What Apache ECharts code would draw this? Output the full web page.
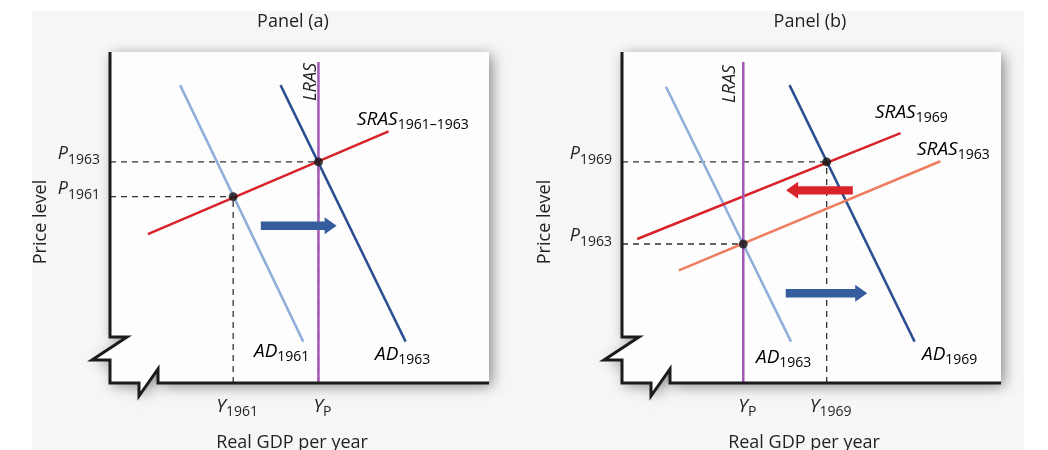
<!DOCTYPE html>
<html><head><meta charset="utf-8">
<script src="https://cdn.jsdelivr.net/npm/echarts@6/dist/echarts.min.js"></script>
<style>html,body{margin:0;padding:0;background:#fff}#c{width:1048px;height:450px}</style>
</head><body><div id="c"></div>
<script>
// ---------- Panel (a) ----------
const adA1961 = [[18.5, 90], [51, 12.5]];
const adA1963 = [[45, 90], [78, 12.5]];
const srasA = [[10, 45], [73.5, 76]];
const lrasA = [[55, 0], [55, 97]];
const eqA = [[55, 66.8], [32.5, 56.3]];
const demandArrowA = [[39.8, 59.8, 47.5]];
const yTicksA = [56.3, 66.8];
const yTickSubsA = ['1961', '1963'];
const xTicksA = [32.5, 55];
const xTickSubsA = ['1961', 'P'];
// ---------- Panel (b) ----------
const adB1963 = [[11.6, 89.5], [44.6, 12.5]];
const adB1969 = [[44.2, 90], [77.2, 12.5]];
const srasB1963 = [[15, 34], [84, 67]];
const srasB1969 = [[4, 43.5], [73.5, 75.5]];
const lrasB = [[32, 0], [32, 97]];
const eqB = [[54, 66.8], [32, 42]];
const supplyArrowB = [[60.9, 43.3, 58.2]];
const demandArrowB = [[43.2, 64.7, 27.1]];
const yTicksB = [42, 66.8];
const yTickSubsB = ['1963', '1969'];
const xTicksB = [32, 54];
const xTickSubsB = ['P', '1969'];

const FONT = '"Open Sans", "Noto Sans", sans-serif';
const TXT = '#231f20';
const C_LIGHT = '#8eaedb', C_DARK = '#2c4f91', C_RED = '#d8232a', C_SALMON = '#ee7e5f', C_PURPLE = '#a557b5', C_ARROW = '#355c9c';

const richCurve = {
  m: { fontFamily: FONT, fontSize: 19, fontStyle: 'italic', lineHeight: 22, verticalAlign: 'top', color: TXT },
  s: { fontFamily: FONT, fontSize: 14, lineHeight: 14, padding: [13, 0, 0, 0], verticalAlign: 'bottom', color: TXT }
};
const richTickY = {
  m: { fontFamily: FONT, fontSize: 18, fontStyle: 'italic', lineHeight: 22, verticalAlign: 'top', color: TXT },
  s: { fontFamily: FONT, fontSize: 14, lineHeight: 14, padding: [12, 0, 0, 0], verticalAlign: 'bottom', color: TXT }
};
const richTickX = {
  m: { fontFamily: FONT, fontSize: 19, fontStyle: 'italic', lineHeight: 22, verticalAlign: 'top', color: TXT },
  s: { fontFamily: FONT, fontSize: 14, lineHeight: 14, padding: [13, 0, 0, 0], verticalAlign: 'bottom', color: TXT }
};

function tickFormatter(ticks, subs, letter) {
  return function (v) {
    const i = ticks.findIndex(t => Math.abs(t - v) < 1e-6);
    return i < 0 ? '' : '{m|' + letter + '}{s|' + subs[i] + '}';
  };
}

const grids = [
  { left: 110, top: 52, width: 379, height: 331 },
  { left: 622, top: 52, width: 379, height: 331 }
];
const xTickSets = [[xTicksA, xTickSubsA], [xTicksB, xTickSubsB]];

function line(data, color, g, width, z) {
  return { type: 'line', xAxisIndex: g, yAxisIndex: g, data: data, symbol: 'none', silent: true,
    lineStyle: { color: color, width: width || 2.5 }, z: z || 3 };
}
function guides(eq, g) {
  const out = [];
  eq.forEach(p => {
    out.push({ type: 'line', xAxisIndex: g, yAxisIndex: g, data: [[0, p[1]], [p[0], p[1]]], symbol: 'none', silent: true,
      lineStyle: { color: '#333', width: 1.3, type: [6, 5] }, z: 2 });
    out.push({ type: 'line', xAxisIndex: g, yAxisIndex: g, data: [[p[0], 0], [p[0], p[1]]], symbol: 'none', silent: true,
      lineStyle: { color: '#333', width: 1.3, type: [6, 5] }, z: 2 });
  });
  return out;
}
function dots(eq, g) {
  return { type: 'scatter', xAxisIndex: g, yAxisIndex: g, data: eq, symbolSize: 9, silent: true,
    itemStyle: { color: '#111' }, z: 6 };
}
// price-level tick labels placed at the y axis through the series' own scales
function yTickLabels(ticks, subs, g) {
  const fmt = tickFormatter(ticks, subs, 'P');
  return { type: 'scatter', xAxisIndex: g, yAxisIndex: g, data: ticks.map(v => [0, v]), symbolSize: 0, silent: true, clip: false,
    itemStyle: { color: TXT }, z: 20,
    label: { show: true, position: 'left', distance: 10, offset: [0, -6], color: TXT, opacity: 1, rich: richTickY,
      formatter: p => fmt(p.value[1]) } };
}
function arrow(data, color, g) {
  return {
    type: 'custom', xAxisIndex: g, yAxisIndex: g, data: data, silent: true, z: 5,
    encode: { x: [0, 1], y: 2 },
    renderItem: function (params, api) {
      const a = api.coord([api.value(0), api.value(2)]);
      const b = api.coord([api.value(1), api.value(2)]);
      const d = b[0] > a[0] ? 1 : -1;
      const hl = 12, hw = 8.5, sw = 4.2;
      const bx = b[0] - d * hl, y = a[1];
      return { type: 'polygon', shape: { points: [[a[0], y - sw], [bx, y - sw], [bx, y - hw], [b[0], y], [bx, y + hw], [bx, y + sw], [a[0], y + sw]] },
        style: { fill: color } };
    }
  };
}

function frameFill(gr) {
  const L = gr.left, T = gr.top, R = gr.left + gr.width, B = gr.top + gr.height;
  return { type: 'polygon', z: 0, silent: true,
    shape: { points: [[L, T], [R, T], [R, B], [L + 48, B], [L + 48, B - 14], [L + 29, B + 13], [L + 29, B], [L, B], [L, B - 23], [L - 18, B - 23], [L + 17, B - 46], [L, B - 46]] },
    style: { fill: '#fdfdfd', shadowBlur: 14, shadowColor: 'rgba(0,0,0,0.45)', shadowOffsetX: 3, shadowOffsetY: 3 } };
}
function frameLine(gr) {
  const L = gr.left, T = gr.top, R = gr.left + gr.width, B = gr.top + gr.height;
  return { type: 'polyline', z: 20, silent: true,
    shape: { points: [[L, T], [L, B - 46], [L + 17, B - 46], [L - 18, B - 23], [L, B - 23], [L, B], [L + 29, B], [L + 29, B + 13], [L + 48, B - 14], [L + 48, B], [R, B]] },
    style: { stroke: '#1b1b1b', lineWidth: 3, fill: null, lineJoin: 'miter' } };
}
function plainText(text, x, y, size, rot) {
  return { type: 'text', x: x, y: y, rotation: rot || 0, z: 20, silent: true,
    style: { text: text, fill: TXT, font: size + 'px ' + FONT, align: 'center', verticalAlign: 'middle' } };
}
function curveLabel(main, sub, x, y) {
  return { type: 'text', x: x, y: y, z: 20, silent: true,
    style: { text: '{m|' + main + '}' + (sub ? '{s|' + sub + '}' : ''), rich: richCurve, align: 'left', verticalAlign: 'top' } };
}
function rotLabel(text, x, y) {
  return { type: 'text', x: x, y: y, rotation: Math.PI / 2, z: 20, silent: true,
    style: { text: text, fill: TXT, font: 'italic 18px ' + FONT, align: 'center', verticalAlign: 'middle' } };
}

const chart = echarts.init(document.getElementById('c'), null, { renderer: 'canvas' });
chart.setOption({
  animation: false,
  grid: grids,
  xAxis: [0, 1].map(g => ({
    gridIndex: g, type: 'value', min: 0, max: 100,
    axisLine: { show: false }, axisTick: { show: false }, splitLine: { show: false },
    axisLabel: { customValues: xTickSets[g][0], formatter: tickFormatter(xTickSets[g][0], xTickSets[g][1], 'Y'),
      rich: richTickX, margin: 14, padding: [0, 0, 0, 8], showMinLabel: true, showMaxLabel: true, hideOverlap: false }
  })),
  yAxis: [0, 1].map(g => ({
    gridIndex: g, type: 'value', min: 0, max: 100,
    axisLine: { show: false }, axisTick: { show: false }, splitLine: { show: false },
    axisLabel: { show: false }
  })),
  graphic: [
    { type: 'rect', z: -1, silent: true, shape: { x: 32, y: 11, width: 992, height: 439 }, style: { fill: '#f6f6f6' } },
    frameFill(grids[0]), frameFill(grids[1]),
    frameLine(grids[0]), frameLine(grids[1]),
    plainText('Panel (a)', 293, 22, 18),
    plainText('Panel (b)', 810, 22, 18),
    plainText('Real GDP per year', 292, 443, 18),
    plainText('Real GDP per year', 804, 443, 18),
    plainText('Price level', 41, 222, 18, Math.PI / 2),
    plainText('Price level', 545, 222, 18, Math.PI / 2),
    curveLabel('SRAS', '1961–1963', 357, 110),
    curveLabel('AD', '1961', 254, 342),
    curveLabel('AD', '1963', 375, 345),
    curveLabel('SRAS', '1969', 875, 103),
    curveLabel('SRAS', '1963', 917, 140),
    curveLabel('AD', '1963', 756, 348),
    curveLabel('AD', '1969', 922, 345),
    rotLabel('LRAS', 311, 82),
    rotLabel('LRAS', 730, 84)
  ],
  series: [
    ...guides(eqA, 0),
    line(adA1961, C_LIGHT, 0),
    line(adA1963, C_DARK, 0),
    line(srasA, C_RED, 0),
    line(lrasA, C_PURPLE, 0, 2.5, 4),
    dots(eqA, 0),
    arrow(demandArrowA, C_ARROW, 0),
    yTickLabels(yTicksA, yTickSubsA, 0),
    ...guides(eqB, 1),
    line(adB1963, C_LIGHT, 1),
    line(adB1969, C_DARK, 1),
    line(srasB1963, C_SALMON, 1),
    line(srasB1969, C_RED, 1),
    line(lrasB, C_PURPLE, 1, 2.5, 4),
    dots(eqB, 1),
    arrow(supplyArrowB, C_RED, 1),
    arrow(demandArrowB, C_ARROW, 1),
    yTickLabels(yTicksB, yTickSubsB, 1)
  ]
});
</script>
</body></html>
